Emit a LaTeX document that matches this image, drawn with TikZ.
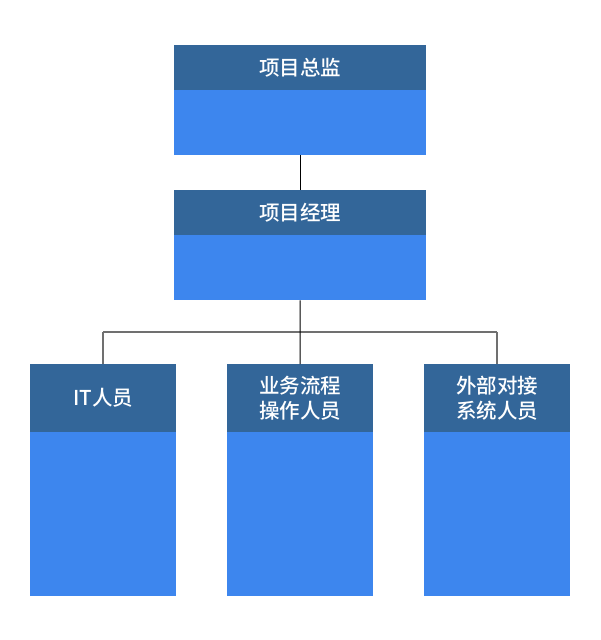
\documentclass[tikz,border=0pt]{standalone}
\usepackage{fontspec}
\setmainfont{Noto Sans CJK SC}[BoldFont={Noto Sans CJK SC Medium}]
\definecolor{hdr}{HTML}{336699}
\definecolor{bdy}{HTML}{3D86EE}
\definecolor{lgray}{HTML}{707070}
\begin{document}
\begin{tikzpicture}[x=1pt,y=-1pt,
  hbox/.style={rectangle,fill=hdr,draw=none,inner sep=0pt,anchor=north west,text=white,font=\fontsize{20.5}{25}\selectfont\bfseries,align=center},
  bbox/.style={rectangle,fill=bdy,draw=none,inner sep=0pt,anchor=north west},
  conn/.style={draw=black,line width=1pt},
  gconn/.style={draw=lgray,line width=1.3pt}]
\useasboundingbox[fill=white] (0,0) rectangle (600,640);
% top
\node[hbox,minimum width=252pt,minimum height=45pt] (h1) at (174,45) {项目总监};
\node[bbox,minimum width=252pt,minimum height=65pt] (b1) at (174,90) {};
\node[hbox,minimum width=252pt,minimum height=45pt] (h2) at (174,190) {项目经理};
\node[bbox,minimum width=252pt,minimum height=65pt] (b2) at (174,235) {};
% bottom
\node[hbox,minimum width=146pt,minimum height=68pt] (h3) at (30,364) {IT人员};
\node[bbox,minimum width=146pt,minimum height=164pt] (b3) at (30,432) {};
\node[hbox,minimum width=146pt,minimum height=68pt] (h4) at (227,364) {业务流程\\操作人员};
\node[bbox,minimum width=146pt,minimum height=164pt] (b4) at (227,432) {};
\node[hbox,minimum width=146pt,minimum height=68pt] (h5) at (424,364) {外部对接\\系统人员};
\node[bbox,minimum width=146pt,minimum height=164pt] (b5) at (424,432) {};
\coordinate (j) at (300,332);
\coordinate (jl) at (103,332);
\coordinate (jr) at (497,332);
\draw[conn] (b1.south) -- (h2.north);
\draw[gconn] (jl) -- (jr);
\draw[gconn] (jl) -- (jl |- h3.north);
\draw[gconn] (jr) -- (jr |- h5.north);
\draw[conn] (b2.south) -- (j) -- (h4.north);
\end{tikzpicture}
\end{document}
